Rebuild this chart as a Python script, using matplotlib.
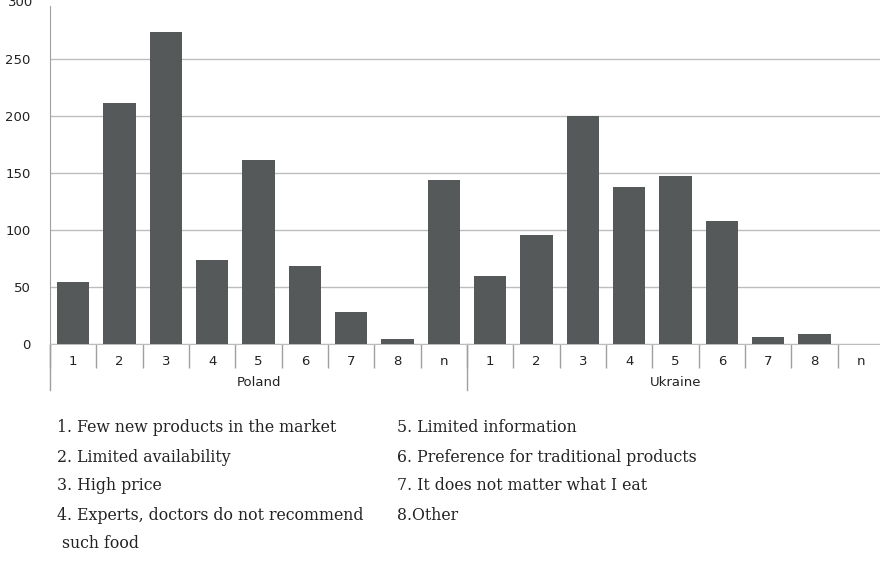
import numpy as np
import matplotlib.pyplot as plt
from matplotlib.transforms import blended_transform_factory

# data
groups = ["Poland", "Ukraine"]
categories = ["1", "2", "3", "4", "5", "6", "7", "8", "n"]
poland = [54, 211, 274, 74, 161, 68, 28, 4, 144]
ukraine = [60, 96, 200, 138, 147, 108, 6, 9, 0]
legend_left = ["1. Few new products in the market",
               "2. Limited availability",
               "3. High price",
               "4. Experts, doctors do not recommend",
               " such food"]
legend_right = ["5. Limited information",
                "6. Preference for traditional products",
                "7. It does not matter what I eat",
                "8.Other"]

values = poland + ukraine
labels = categories * len(groups)
x = np.arange(len(values))

fig = plt.figure(figsize=(8.8, 5.61), dpi=100)
# plot area stops just under 300, as in the cropped original
ax = fig.add_axes([50 / 880, 1 - 344 / 561, 834 / 880, 338 / 561])

grid_col = "#bdbdbd"
txt_col = "#222222"
ax.bar(x, values, width=0.7, color="#555959", zorder=3)
ax.set_xlim(-0.5, len(values) - 0.5)
ax.set_ylim(0, 296.5)
ax.set_yticks(np.arange(0, 251, 50))
ax.yaxis.grid(True, color=grid_col, linewidth=1, zorder=0)
ax.tick_params(axis="y", length=0, pad=14, labelsize=9.5, labelcolor=txt_col)
# the 300 label sits above the plot area and is cut by the image edge
ytrans = blended_transform_factory(ax.transAxes, ax.transData)
ax.text(-0.0205, 300, "300", transform=ytrans, ha="right", va="center",
        fontsize=9.5, color=txt_col, clip_on=False)

for s in ["top", "right"]:
    ax.spines[s].set_visible(False)
ax.spines["left"].set_color("#a0a0a0")
ax.spines["bottom"].set_color(grid_col)

# category labels and separators
ax.set_xticks(x)
ax.set_xticklabels(labels, fontsize=9.5, color=txt_col)
ax.set_xticks(np.arange(-0.5, len(values), 1), minor=True)
ax.tick_params(axis="x", which="major", length=0, pad=8)
ax.tick_params(axis="x", which="minor", length=17, color="#a0a0a0", width=1)

trans = blended_transform_factory(ax.transData, ax.transAxes)
n = len(categories)
for i, g in enumerate(groups):
    ax.text(i * n + (n - 1) / 2, -0.115, g, transform=trans, ha="center",
            va="center", fontsize=9.5, color=txt_col)
for b in [-0.5, n - 0.5]:
    ax.plot([b, b], [0, -0.137], transform=trans, color="#a0a0a0",
            linewidth=1, clip_on=False)

# legend text below the chart
for j, t in enumerate(legend_left):
    fig.text(57 / 880, 1 - (428 + j * 29) / 561, t, family="DejaVu Serif",
             fontsize=11.3, va="center", color=txt_col)
for j, t in enumerate(legend_right):
    fig.text(397 / 880, 1 - (428 + j * 29) / 561, t, family="DejaVu Serif",
             fontsize=11.3, va="center", color=txt_col)

fig.savefig("out.png", dpi=100)
